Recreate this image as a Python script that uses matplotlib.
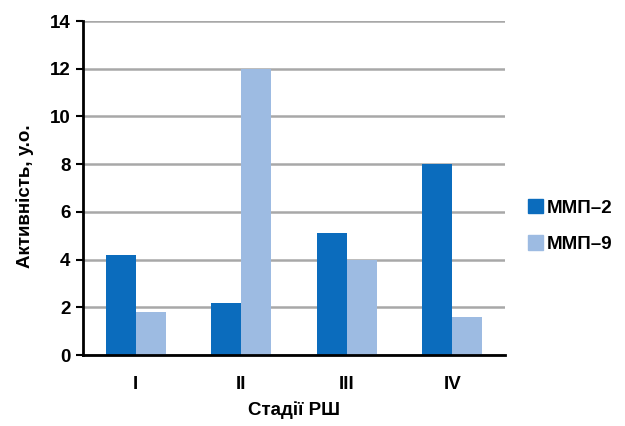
import numpy as np
import matplotlib.pyplot as plt
from matplotlib.patches import Patch

# data
stages = ['I', 'II', 'III', 'IV']
mmp2 = [4.2, 2.2, 5.1, 8.0]
mmp9 = [1.8, 12.0, 4.0, 1.6]
series_names = ['ММП–2', 'ММП–9']
colors = ['#0b6cbd', '#9dbbe2']

plt.rcParams['font.family'] = ['Liberation Sans', 'DejaVu Sans']
fs = 13.5

W, H = 625, 426
fig = plt.figure(figsize=(W / 100, H / 100), dpi=100)
ax = fig.add_axes([83 / W, 1 - 355 / H, (505 - 83) / W, (355 - 21) / H])

x = np.arange(len(stages))
w = 0.284
ax.bar(x - w / 2, mmp2, width=w, color=colors[0], zorder=3)
ax.bar(x + w / 2, mmp9, width=w, color=colors[1], zorder=3)

ax.set_xlim(-0.5, len(stages) - 0.5)
ax.set_ylim(0, 14)
ax.set_yticks(np.arange(0, 15, 2))
ax.set_xticks(x)
ax.set_xticklabels(stages)
ax.yaxis.grid(True, color='#a8a8a8', linewidth=1.8, zorder=0)
ax.set_axisbelow(True)

for s in ['top', 'right']:
    ax.spines[s].set_visible(False)
ax.spines['left'].set_linewidth(2)
ax.spines['bottom'].set_linewidth(2)
ax.spines['left'].set_zorder(4)
ax.spines['bottom'].set_zorder(4)

ax.tick_params(axis='y', length=5, width=1.5, labelsize=fs, pad=4)
ax.tick_params(axis='x', length=0, labelsize=fs, pad=15)
for lab in ax.get_yticklabels() + ax.get_xticklabels():
    lab.set_fontweight('bold')

fig.text(25 / W, 1 - 196 / H, 'Активність, у.о.', rotation=90, ha='center', va='center',
         fontsize=fs, fontweight='bold')
fig.text(294 / W, 1 - 410 / H, 'Стадії РШ', ha='center', va='center',
         fontsize=fs, fontweight='bold')

handles = [Patch(color=c) for c in colors]
fig.legend(handles, series_names, loc='center left', bbox_to_anchor=(511 / W, 1 - 226 / H),
           frameon=False, prop={'weight': 'bold', 'size': fs},
           handlelength=0.8, handleheight=0.8, handletextpad=0.2, labelspacing=1.0)

fig.savefig('out.png', dpi=100)
